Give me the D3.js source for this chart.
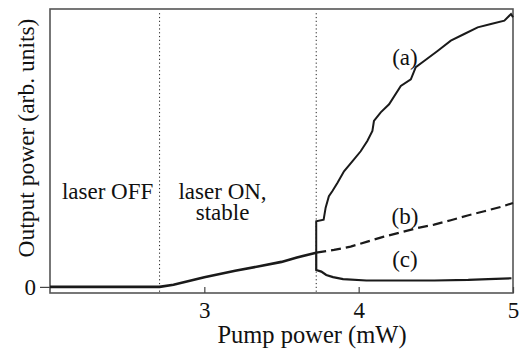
<!DOCTYPE html>
<html>
<head>
<meta charset="utf-8">
<script src="https://cdn.jsdelivr.net/npm/d3@7"></script>
<style>
  body { margin: 0; background: #fff; }
  text { font-family: "Liberation Serif", "Times New Roman", serif; fill: #111; }
</style>
</head>
<body>
<div id="chart"></div>
<script>
// pump power (mW) vs output power (arb. units)
const belowX = [2.0, 2.3, 2.5, 2.71, 2.8, 3.0, 3.2, 3.364, 3.5, 3.6, 3.725];
const belowY = [0.0, 0.0, 0.0, 0.0, 0.08, 0.35, 0.58, 0.75, 0.9, 1.06, 1.23];

// (a) jagged output above second threshold
const aX = [3.725, 3.725, 3.773, 3.786, 3.807, 3.829, 3.862, 3.905, 3.959, 4.013, 4.056, 4.089, 4.099,
            4.143, 4.197, 4.273, 4.338, 4.370, 4.424, 4.511, 4.597, 4.684, 4.771, 4.857, 4.944, 4.987, 5.0];
const aY = [1.23, 2.36, 2.42, 2.85, 3.26, 3.44, 3.74, 4.16, 4.52, 4.88, 5.25, 5.61, 5.97,
            6.28, 6.57, 7.23, 7.47, 7.91, 8.13, 8.49, 8.86, 9.10, 9.34, 9.46, 9.58, 9.82, 9.7];

// (b) dashed continuation of the stable branch
const bX = [3.725, 3.840, 3.948, 4.056, 4.164, 4.273, 4.381, 4.489, 4.597, 4.706, 4.814, 4.922, 5.0];
const bY = [1.23, 1.33, 1.45, 1.63, 1.81, 1.96, 2.12, 2.24, 2.40, 2.57, 2.72, 2.88, 3.02];

// (c) lower branch
const cX = [3.725, 3.725, 3.758, 3.790, 3.834, 3.899, 4.05, 4.27, 4.49, 4.71, 4.84, 4.99];
const cY = [1.23, 0.61, 0.55, 0.43, 0.35, 0.28, 0.23, 0.23, 0.23, 0.25, 0.28, 0.31];

const thresholds = [2.71, 3.725];
const xTicks = [3, 4, 5];
const yTicks = [0];

const regionLabels = [
  {x: 2.373, text: "laser OFF", row: 0},
  {x: 3.118, text: "laser ON,", row: 0},
  {x: 3.118, text: "stable", row: 1}
];
const curveLabels = [
  {x: 4.30, y: 8.0, text: "(a)"},
  {x: 4.30, y: 2.27, text: "(b)"},
  {x: 4.30, y: 0.73, text: "(c)"}
];

const W = 522, H = 352;
const svg = d3.select("#chart").append("svg")
  .attr("width", W)
  .attr("height", H);

const x = d3.scaleLinear().domain([2, 5]).range([50, 513]);
const y = d3.scaleLinear().domain([-0.22, 10]).range([293, 9]);

// frame
svg.append("rect")
  .attr("x", x(2))
  .attr("y", y(10))
  .attr("width", x(5) - x(2))
  .attr("height", y(-0.22) - y(10))
  .attr("fill", "none")
  .attr("stroke", "#555")
  .attr("stroke-width", 1.6);

// threshold markers
svg.selectAll(".thr")
  .data(thresholds)
  .enter()
  .append("line")
  .attr("class", "thr")
  .attr("x1", d => x(d))
  .attr("x2", d => x(d))
  .attr("y1", y(9.85))
  .attr("y2", y(-0.22))
  .attr("stroke", "#222")
  .attr("stroke-width", 1)
  .attr("stroke-dasharray", "1.2,2.6");

// axes
const xAxis = svg.append("g")
  .attr("transform", `translate(0,${y(-0.22)})`)
  .call(d3.axisBottom(x).tickValues(xTicks).tickFormat(d3.format("d"))
    .tickSizeInner(-6).tickSizeOuter(0).tickPadding(9));
xAxis.select(".domain").remove();
xAxis.selectAll("line").attr("stroke", "#444").attr("stroke-width", 1.2);
xAxis.selectAll("text").style("font-size", "23px")
  .style("font-family", "Liberation Serif").attr("fill", "#111");

const yAxis = svg.append("g")
  .attr("transform", `translate(${x(2)},0)`)
  .call(d3.axisLeft(y).tickValues(yTicks).tickFormat(d3.format("d"))
    .tickSizeInner(10).tickSizeOuter(0).tickPadding(4));
yAxis.select(".domain").remove();
yAxis.selectAll("line").attr("stroke", "#444").attr("stroke-width", 1.2);
yAxis.selectAll("text").style("font-size", "23px")
  .style("font-family", "Liberation Serif").attr("fill", "#111");

// curves
const toPts = (xs, ys) => xs.map((v, i) => [v, ys[i]]);
const line = d3.line().x(d => x(d[0])).y(d => y(d[1]));

svg.append("path")
  .datum(toPts(belowX, belowY))
  .attr("d", line)
  .attr("fill", "none")
  .attr("stroke", "#1a1a1a")
  .attr("stroke-width", 2.6);

svg.append("path")
  .datum(toPts(bX, bY))
  .attr("d", line)
  .attr("fill", "none")
  .attr("stroke", "#1a1a1a")
  .attr("stroke-width", 2.2)
  .attr("stroke-dasharray", "10,5");

svg.append("path")
  .datum(toPts(cX, cY))
  .attr("d", line)
  .attr("fill", "none")
  .attr("stroke", "#1a1a1a")
  .attr("stroke-width", 2.2);

svg.append("path")
  .datum(toPts(aX, aY))
  .attr("d", line)
  .attr("fill", "none")
  .attr("stroke", "#1a1a1a")
  .attr("stroke-width", 2);

// region labels
svg.selectAll(".rlab")
  .data(regionLabels)
  .enter()
  .append("text")
  .attr("class", "rlab")
  .attr("x", d => x(d.x))
  .attr("y", d => 199 + d.row * 21)
  .attr("text-anchor", "middle")
  .style("font-size", "23px")
  .text(d => d.text);

svg.selectAll(".clab")
  .data(curveLabels)
  .enter()
  .append("text")
  .attr("class", "clab")
  .attr("x", d => x(d.x))
  .attr("y", d => y(d.y))
  .attr("text-anchor", "middle")
  .style("font-size", "23px")
  .text(d => d.text);

// axis titles
svg.append("text")
  .attr("x", 312)
  .attr("y", 343)
  .attr("text-anchor", "middle")
  .style("font-size", "24.5px")
  .text("Pump power (mW)");

svg.append("text")
  .attr("transform", "translate(34,138) rotate(-90)")
  .attr("text-anchor", "middle")
  .style("font-size", "23.5px")
  .text("Output power (arb. units)");
</script>
</body>
</html>
